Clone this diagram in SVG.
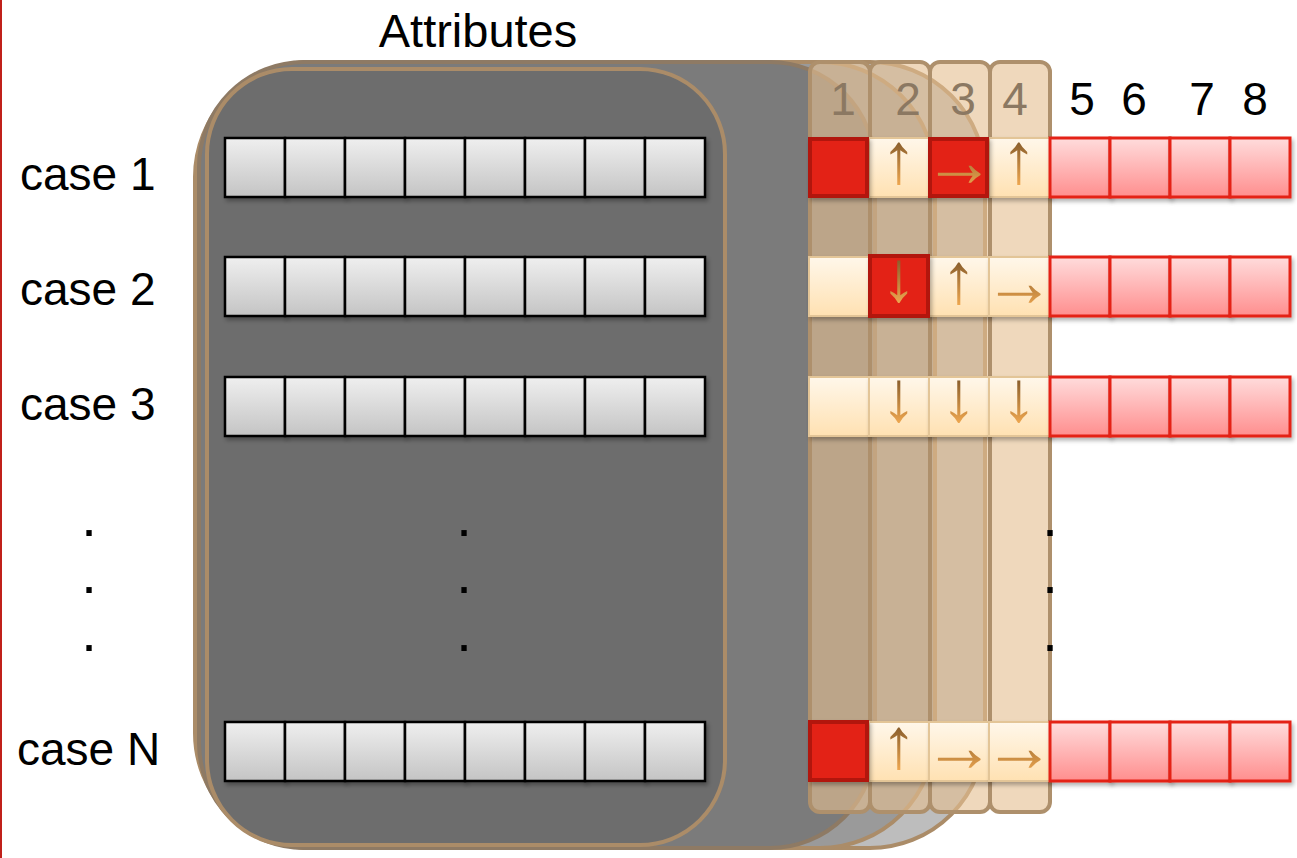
<svg xmlns="http://www.w3.org/2000/svg" width="1297" height="858" viewBox="0 0 1297 858">
<defs>
<linearGradient id="gGray" x1="0" y1="0" x2="0" y2="1"><stop offset="0" stop-color="#efefef"/><stop offset="1" stop-color="#c4c4c4"/></linearGradient>
<linearGradient id="gPink" x1="0" y1="0" x2="0" y2="1"><stop offset="0" stop-color="#ffdcdc"/><stop offset="1" stop-color="#ff8e8e"/></linearGradient>
<linearGradient id="gCream" x1="0" y1="0" x2="0" y2="1"><stop offset="0" stop-color="#fff7ea"/><stop offset="1" stop-color="#ffe1b2"/></linearGradient>
<linearGradient id="gArrow" x1="0" y1="0" x2="0" y2="1"><stop offset="0.15" stop-color="#6e4a22"/><stop offset="0.85" stop-color="#f0a850"/></linearGradient>
<filter id="sh" x="-20%" y="-20%" width="150%" height="150%"><feDropShadow dx="2" dy="3" stdDeviation="2" flood-color="#000" flood-opacity="0.3"/></filter>
<style>
.lbl{font-family:"Liberation Sans",Arial,sans-serif;font-size:46px;fill:#000}
.num{font-family:"Liberation Sans",Arial,sans-serif;font-size:46px;text-anchor:middle}
.dot{font-family:"Liberation Sans",Arial,sans-serif;font-size:56px;fill:#000;text-anchor:middle}
.card{stroke:#ab8c68;stroke-width:4}
.col{fill:#e5bf92;fill-opacity:0.61;stroke:#ae906c;stroke-width:4}
.g{fill:url(#gGray);stroke:#000;stroke-width:2.5;filter:url(#sh)}
.p{fill:url(#gPink);stroke:#e42214;stroke-width:3;filter:url(#sh)}
.c{fill:url(#gCream);stroke:#e3c597;stroke-width:2;filter:url(#sh)}
.r{fill:#e32112;stroke:#b2170c;stroke-width:4;filter:url(#sh)}
.ar{font-family:"Liberation Sans",Arial,sans-serif;font-size:72px;fill:url(#gArrow);text-anchor:middle}
</style>
</defs>
<rect width="1297" height="858" fill="#fff"/>
<line x1="1" y1="0" x2="1" y2="858" stroke="#c0201a" stroke-width="2"/>

<g id="stack">
<rect class="card" x="195" y="62" width="790" height="786" rx="115" fill="#bdbdbd"/>
<rect class="card" x="197" y="62" width="738" height="786" rx="115" fill="#9a9a9a"/>
<rect class="card" x="199" y="62" width="676" height="786" rx="105" fill="#7b7b7b" style="stroke:#8e7a64"/>
<rect class="card" x="207" y="69" width="518" height="776" rx="85" fill="#6d6d6d"/>
</g>

<g id="columns">
<rect class="col" x="810" y="62" width="60" height="750" rx="10"/>
<rect class="col" x="870" y="62" width="60" height="750" rx="10"/>
<rect class="col" x="930" y="62" width="60" height="750" rx="10"/>
<rect class="col" x="990" y="62" width="60" height="750" rx="10"/>
</g>

<g id="headers">
<text class="lbl" x="478" y="47" text-anchor="middle" style="font-size:47px">Attributes</text>
<g fill="#8b7862">
<text class="num" x="843" y="115">1</text>
<text class="num" x="908" y="115">2</text>
<text class="num" x="963" y="115">3</text>
<text class="num" x="1015" y="115">4</text>
</g>
<g fill="#000">
<text class="num" x="1082" y="115">5</text>
<text class="num" x="1134" y="115">6</text>
<text class="num" x="1202" y="115">7</text>
<text class="num" x="1255" y="115">8</text>
</g>
</g>

<g id="case1">
<text class="lbl" x="20" y="190">case 1</text>
<rect class="g" x="225" y="138" width="60" height="59"/><rect class="g" x="285" y="138" width="60" height="59"/><rect class="g" x="345" y="138" width="60" height="59"/><rect class="g" x="405" y="138" width="60" height="59"/><rect class="g" x="465" y="138" width="60" height="59"/><rect class="g" x="525" y="138" width="60" height="59"/><rect class="g" x="585" y="138" width="60" height="59"/><rect class="g" x="645" y="138" width="60" height="59"/>
<rect class="c" x="869" y="138" width="60" height="59"/><rect class="c" x="989" y="138" width="61" height="59"/>
<rect class="p" x="1050" y="138" width="60" height="59"/><rect class="p" x="1110" y="138" width="60" height="59"/><rect class="p" x="1170" y="138" width="60" height="59"/><rect class="p" x="1230" y="138" width="60" height="59"/>
<rect class="r" x="810" y="139" width="57" height="57"/><rect class="r" x="930" y="139" width="57" height="57"/>
<text class="ar" x="899" y="183">↑</text><text class="ar" x="959" y="186">→</text><text class="ar" x="1019" y="183">↑</text>
</g>

<g id="case2">
<text class="lbl" x="20" y="305">case 2</text>
<rect class="g" x="225" y="257" width="60" height="59"/><rect class="g" x="285" y="257" width="60" height="59"/><rect class="g" x="345" y="257" width="60" height="59"/><rect class="g" x="405" y="257" width="60" height="59"/><rect class="g" x="465" y="257" width="60" height="59"/><rect class="g" x="525" y="257" width="60" height="59"/><rect class="g" x="585" y="257" width="60" height="59"/><rect class="g" x="645" y="257" width="60" height="59"/>
<rect class="c" x="809" y="257" width="60" height="59"/><rect class="c" x="929" y="257" width="60" height="59"/><rect class="c" x="989" y="257" width="61" height="59"/>
<rect class="p" x="1050" y="257" width="60" height="59"/><rect class="p" x="1110" y="257" width="60" height="59"/><rect class="p" x="1170" y="257" width="60" height="59"/><rect class="p" x="1230" y="257" width="60" height="59"/>
<rect class="r" x="870" y="256" width="58" height="60"/>
<text class="ar" x="899" y="301">↓</text><text class="ar" x="959" y="303">↑</text><text class="ar" x="1019" y="306">→</text>
</g>

<g id="case3">
<text class="lbl" x="20" y="420">case 3</text>
<rect class="g" x="225" y="377" width="60" height="59"/><rect class="g" x="285" y="377" width="60" height="59"/><rect class="g" x="345" y="377" width="60" height="59"/><rect class="g" x="405" y="377" width="60" height="59"/><rect class="g" x="465" y="377" width="60" height="59"/><rect class="g" x="525" y="377" width="60" height="59"/><rect class="g" x="585" y="377" width="60" height="59"/><rect class="g" x="645" y="377" width="60" height="59"/>
<rect class="c" x="809" y="377" width="60" height="59"/><rect class="c" x="869" y="377" width="60" height="59"/><rect class="c" x="929" y="377" width="60" height="59"/><rect class="c" x="989" y="377" width="61" height="59"/>
<rect class="p" x="1050" y="377" width="60" height="59"/><rect class="p" x="1110" y="377" width="60" height="59"/><rect class="p" x="1170" y="377" width="60" height="59"/><rect class="p" x="1230" y="377" width="60" height="59"/>
<text class="ar" x="899" y="421">↓</text><text class="ar" x="959" y="421">↓</text><text class="ar" x="1019" y="421">↓</text>
</g>

<g id="ellipsis">
<text class="dot" x="89" y="536">.</text><text class="dot" x="89" y="593">.</text><text class="dot" x="89" y="651">.</text>
<text class="dot" x="464" y="536">.</text><text class="dot" x="464" y="593">.</text><text class="dot" x="464" y="651">.</text>
<text class="dot" x="1050" y="536">.</text><text class="dot" x="1050" y="593">.</text><text class="dot" x="1050" y="651">.</text>
</g>

<g id="caseN">
<text class="lbl" x="17" y="765">case N</text>
<rect class="g" x="225" y="722" width="60" height="59"/><rect class="g" x="285" y="722" width="60" height="59"/><rect class="g" x="345" y="722" width="60" height="59"/><rect class="g" x="405" y="722" width="60" height="59"/><rect class="g" x="465" y="722" width="60" height="59"/><rect class="g" x="525" y="722" width="60" height="59"/><rect class="g" x="585" y="722" width="60" height="59"/><rect class="g" x="645" y="722" width="60" height="59"/>
<rect class="c" x="869" y="722" width="60" height="59"/><rect class="c" x="929" y="722" width="60" height="59"/><rect class="c" x="989" y="722" width="61" height="59"/>
<rect class="p" x="1050" y="722" width="60" height="59"/><rect class="p" x="1110" y="722" width="60" height="59"/><rect class="p" x="1170" y="722" width="60" height="59"/><rect class="p" x="1230" y="722" width="60" height="59"/>
<rect class="r" x="810" y="722" width="57" height="58"/>
<text class="ar" x="899" y="768">↑</text><text class="ar" x="959" y="771">→</text><text class="ar" x="1019" y="771">→</text>
</g>
</svg>
